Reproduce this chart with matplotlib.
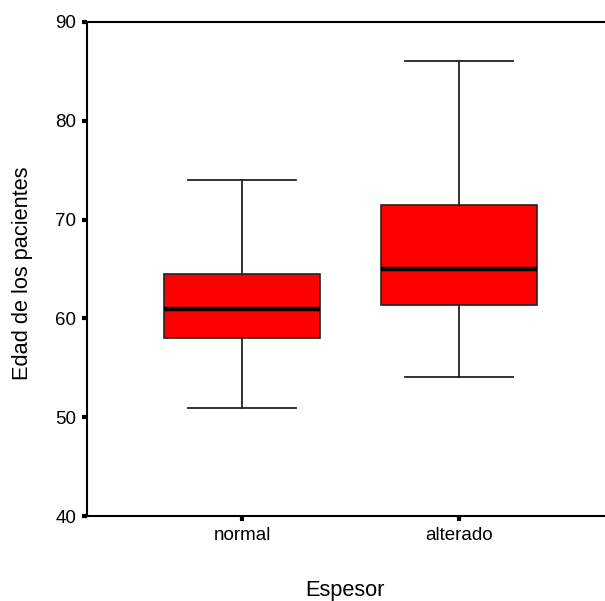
import matplotlib
matplotlib.use("Agg")
import matplotlib.pyplot as plt

plt.rcParams['font.family'] = ['Liberation Sans', 'DejaVu Sans']

groups = ["normal", "alterado"]
whislo = [50.9, 54.1]
q1 = [58.0, 61.4]
med = [61.0, 65.0]
q3 = [64.5, 71.5]
whishi = [74.0, 86.1]

stats = []
for g, lo, a, m, b, hi in zip(groups, whislo, q1, med, q3, whishi):
    stats.append({'label': g, 'whislo': lo, 'q1': a, 'med': m, 'q3': b,
                  'whishi': hi, 'fliers': []})

fig = plt.figure(figsize=(6.05, 6.01), dpi=100)
ax = fig.add_axes([0.1438, 0.1414, 0.8562, 0.822])

ax.bxp(stats, positions=[1, 2], widths=0.72, patch_artist=True,
       showfliers=False,
       boxprops=dict(facecolor='#ff0000', edgecolor='#222222', linewidth=1.2),
       medianprops=dict(color='black', linewidth=3.2),
       whiskerprops=dict(color='#222222', linewidth=1.3),
       capprops=dict(color='#222222', linewidth=1.3),
       capwidths=0.5)

ax.set_xlim(0.282, 2.676)
ax.set_ylim(40, 90)
ax.set_yticks([40, 50, 60, 70, 80, 90])

for s in ['left', 'top', 'bottom']:
    ax.spines[s].set_linewidth(1.5)
ax.spines['right'].set_visible(False)

ax.tick_params(axis='both', direction='out', length=3.6, width=3,
               labelsize=13.5, pad=4)

ax.set_xlabel("Espesor", fontsize=15.7, va='center')
ax.set_ylabel("Edad de los pacientes", fontsize=15.7, va='center')
ax.xaxis.set_label_coords(0.5 * (345 - 87) / 259, -0.150)
ax.yaxis.set_label_coords(-0.1236, 0.492)

fig.savefig("out.png", dpi=100)
